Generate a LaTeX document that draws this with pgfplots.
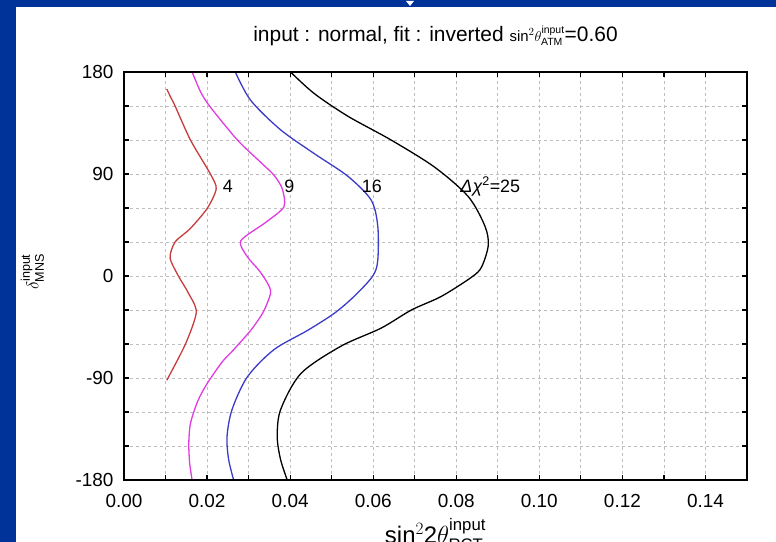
\documentclass[border=0pt]{standalone}
\usepackage{fontspec}
\setmainfont{Liberation Sans}
\usepackage{amsmath}
\usepackage{pgfplots}
\pgfplotsset{compat=1.18}

\definecolor{slideblue}{RGB}{0,51,153}
\definecolor{cfour}{RGB}{200,60,60}
\definecolor{cnine}{RGB}{225,60,225}
\definecolor{csixteen}{RGB}{60,60,200}
\definecolor{gridgray}{RGB}{190,190,190}

\begin{document}
\begin{tikzpicture}
\useasboundingbox (0,0) rectangle (776bp,542bp);
\clip (0,0) rectangle (776bp,542bp);
% slide frame
\fill[slideblue] (0,0) rectangle (776bp,542bp);
\fill[white] (16bp,0) rectangle (776bp,535bp);
\fill[white] (406bp,541bp) -- (414bp,541bp) -- (410bp,536bp) -- cycle;

\begin{axis}[
  at={(124bp,62bp)}, anchor=south west,
  scale only axis, width=623bp, height=408bp,
  clip=false,
  xmin=0, xmax=0.15, ymin=-180, ymax=180,
  xtick={0,0.02,0.04,0.06,0.08,0.10,0.12,0.14},
  minor xtick={0.01,0.03,0.05,0.07,0.09,0.11,0.13},
  ytick={-180,-90,0,90,180},
  minor ytick={-150,-120,-60,-30,30,60,120,150},
  scaled x ticks=false,
  /pgf/number format/assume math mode=true,
  xticklabel style={/pgf/number format/fixed, /pgf/number format/fixed zerofill,
    /pgf/number format/precision=2, yshift=-11bp},
  ticklabel style={font=\fontsize{19}{22}\selectfont},
  yticklabel style={xshift=-7bp},
  grid=both,
  major grid style={gridgray, dash pattern=on 3bp off 3bp, line width=0.8bp},
  minor grid style={gridgray, dash pattern=on 3bp off 3bp, line width=0.8bp},
  tick align=inside,
  major tick length=5bp, minor tick length=5bp,
  every tick/.style={black, line width=1.2bp},
  title={input : normal, fit : inverted {\fontsize{15}{17}\selectfont sin$^2\theta^{\text{input}}_{\text{ATM}}$}=0.60},
  title style={at={(axis description cs:0.5,1)}, anchor=base, yshift=25bp,
    font=\fontsize{21}{24}\selectfont},
  xlabel={sin$^2$2$\theta^{\text{input}}_{\text{RCT}}$},
  xlabel style={at={(axis description cs:0.5,0)}, anchor=base, yshift=-63bp,
    font=\fontsize{24}{28}\selectfont},
  ylabel={$\delta^{\text{input}}_{\text{MNS}}$},
  ylabel style={at={(axis description cs:-0.147,0.51)}, anchor=center,
    font=\fontsize{18}{21}\selectfont},
]
% Delta chi^2 = 4
\addplot[cfour, line width=1.3bp, smooth, tension=0.45] coordinates {
  (0.0103,165) (0.0112,158) (0.0123,150) (0.0160,120) (0.0208,90)
  (0.0222,77) (0.0201,60) (0.0160,42) (0.0123,30) (0.0111,16)
  (0.0131,0) (0.0155,-15) (0.0174,-32) (0.0148,-60) (0.0103,-92)
};
% Delta chi^2 = 9
\addplot[cnine, line width=1.3bp, smooth, tension=0.45] coordinates {
  (0.0164,180) (0.0185,162) (0.0208,149) (0.0273,120) (0.0330,100)
  (0.0361,89) (0.0381,77) (0.0385,61) (0.0340,47) (0.0281,31)
  (0.0297,17) (0.0325,5) (0.0345,-6) (0.0353,-15) (0.0335,-32)
  (0.0305,-48) (0.0264,-65) (0.0236,-76) (0.0200,-95) (0.0178,-110)
  (0.0160,-130) (0.0156,-148) (0.0158,-165) (0.0164,-180)
};
% Delta chi^2 = 16
\addplot[csixteen, line width=1.3bp, smooth, tension=0.5] coordinates {
  (0.0268,180) (0.0305,155) (0.0377,129) (0.0458,108) (0.0539,88)
  (0.0595,67) (0.0611,44) (0.0611,14) (0.0599,0) (0.0554,-18)
  (0.0506,-33) (0.0442,-48) (0.0361,-65) (0.0297,-89) (0.0260,-118)
  (0.0248,-142) (0.0252,-162) (0.0264,-180)
};
% Delta chi^2 = 25
\addplot[black, line width=1.3bp, smooth, tension=0.5] coordinates {
  (0.0401,180) (0.0458,161) (0.0539,141) (0.0643,120) (0.0748,96)
  (0.0829,70) (0.0869,44) (0.0877,27) (0.0861,8) (0.0837,-1)
  (0.0764,-18) (0.0692,-30) (0.0619,-46) (0.0522,-62) (0.0426,-86)
  (0.0377,-118) (0.0369,-142) (0.0377,-162) (0.0393,-180)
};
% heavy frame around the plot area
\draw[black, line width=2.8bp] (rel axis cs:0,0) rectangle (rel axis cs:1,1);
\begin{scope}[every node/.style={font=\fontsize{18}{21}\selectfont, inner sep=1pt}]
\node at (axis cs:0.0250,79) {4};
\node at (axis cs:0.0398,79) {9};
\node at (axis cs:0.0597,79) {16};
\node at (axis cs:0.0882,79) {{\itshape Δχ}\textsuperscript{2}=25};
\end{scope}
\end{axis}
\end{tikzpicture}
\end{document}
